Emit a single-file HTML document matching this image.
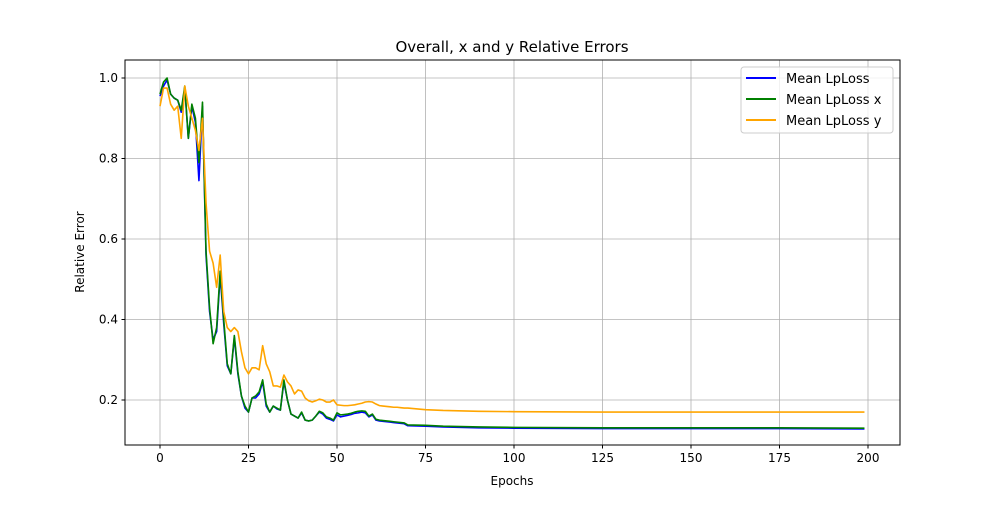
<!DOCTYPE html>
<html><head><meta charset="utf-8"><style>
body{margin:0;background:#fff;font-family:"Liberation Sans","DejaVu Sans",sans-serif}
svg text{font-family:"DejaVu Sans","Liberation Sans",sans-serif}
</style></head><body>
<svg id="chart" width="1000" height="500">
<rect width="1000" height="500" fill="#fff"/>
<g id="grid"></g>
<g id="series"></g>
<rect x="125" y="60" width="775" height="385" fill="none" stroke="#000" stroke-width="1"/>
<g id="ticks"></g>
<text x="512" y="52" font-size="15" text-anchor="middle">Overall, x and y Relative Errors</text>
<text x="512" y="485" font-size="12" text-anchor="middle">Epochs</text>
<text transform="translate(84,252) rotate(-90)" font-size="12" text-anchor="middle">Relative Error</text>
<g>
<rect x="741" y="67" width="152" height="66" rx="3" fill="#fff" fill-opacity="0.8" stroke="#ccc"/>
<g><line x1="746" y1="78" x2="776" y2="78" stroke="blue" stroke-width="2"/><text x="786" y="83" font-size="13">Mean LpLoss</text></g>
<g><line x1="746" y1="99" x2="776" y2="99" stroke="green" stroke-width="2"/><text x="786" y="104" font-size="13">Mean LpLoss x</text></g>
<g><line x1="746" y1="120" x2="776" y2="120" stroke="orange" stroke-width="2"/><text x="786" y="125" font-size="13">Mean LpLoss y</text></g>
</g>
</svg>
<script>
const epochs=[0,1,2,3,4,5,6,7,8,9,10,11,12,13,14,15,16,17,18,19,20,21,22,23,24,25,26,27,28,29,30,31,32,33,34,35,36,37,38,39,40,41,42,43,44,45,46,47,48,49,50,51,52,53,54,55,56,57,58,59,60,61,62,63,64,65,66,67,68,69,70,75,80,90,100,125,150,175,199];
const meanX=[.96,.99,1.0,.96,.95,.945,.92,.98,.85,.935,.90,.79,.94,.57,.43,.34,.38,.52,.40,.29,.265,.36,.27,.21,.185,.17,.205,.21,.22,.25,.19,.17,.185,.18,.175,.25,.2,.165,.16,.155,.17,.15,.148,.15,.16,.172,.168,.158,.155,.15,.168,.163,.164,.165,.167,.17,.172,.173,.172,.16,.165,.152,.15,.149,.148,.147,.146,.145,.144,.143,.138,.137,.135,.133,.132,.131,.131,.131,.13];
const meanAll=[.955,.98,.995,.96,.95,.945,.915,.975,.85,.93,.89,.745,.93,.56,.42,.35,.37,.51,.39,.285,.265,.355,.265,.21,.18,.17,.205,.205,.215,.245,.185,.17,.185,.178,.175,.245,.2,.165,.16,.155,.168,.15,.148,.15,.16,.17,.165,.155,.152,.148,.163,.158,.16,.162,.164,.167,.168,.17,.168,.158,.163,.15,.148,.147,.146,.145,.144,.143,.142,.141,.136,.135,.133,.131,.13,.129,.129,.129,.128];
const meanY=[.93,.975,.975,.935,.92,.93,.85,.98,.93,.90,.87,.82,.90,.69,.57,.54,.48,.56,.42,.38,.37,.38,.37,.32,.28,.265,.28,.28,.275,.335,.29,.27,.235,.235,.232,.262,.245,.235,.215,.225,.222,.205,.198,.195,.198,.202,.2,.195,.195,.2,.188,.187,.186,.186,.187,.188,.19,.192,.195,.196,.195,.19,.186,.185,.184,.183,.182,.182,.181,.18,.18,.176,.174,.172,.171,.17,.17,.17,.17];
const xTicks=[0,25,50,75,100,125,150,175,200];
const yTicks=[0.2,0.4,0.6,0.8,1.0];
const X=v=>160+v*3.54, Y=v=>480.5-v*402.5;
const NS="http://www.w3.org/2000/svg";
const grid=document.getElementById('grid'),ticks=document.getElementById('ticks'),ser=document.getElementById('series');
function mk(tag,a,p){const e=document.createElementNS(NS,tag);for(const k in a)e.setAttribute(k,a[k]);p.appendChild(e);return e;}
xTicks.forEach(t=>{
  const g=mk('line',{x1:X(t),x2:X(t),y1:60,y2:445,stroke:'#b0b0b0','stroke-width':0.8},grid);
  
  
  mk('line',{x1:X(t),x2:X(t),y1:445,y2:448.5,stroke:'#000'},ticks);
  const tx=mk('text',{x:X(t),y:462,'font-size':12,'text-anchor':'middle'},ticks);tx.textContent=t;
  
  
});
yTicks.forEach(t=>{
  const g=mk('line',{x1:125,x2:900,y1:Y(t),y2:Y(t),stroke:'#b0b0b0','stroke-width':0.8},grid);
  
  
  mk('line',{x1:121.5,x2:125,y1:Y(t),y2:Y(t),stroke:'#000'},ticks);
  const tx=mk('text',{x:118,y:Y(t)+4,'font-size':12,'text-anchor':'end'},ticks);tx.textContent=t.toFixed(1);
  
  
});
function line(vals,color,name){
  const p=mk('polyline',{points:vals.map((v,i)=>X(epochs[i])+','+Y(v)).join(' '),fill:'none',stroke:color,'stroke-width':1.6,'stroke-linejoin':'round'},ser);
  
  
}
line(meanAll,'blue','line-mean-lploss');
line(meanX,'green','line-mean-lploss-x');
line(meanY,'orange','line-mean-lploss-y');
</script>
</body></html>
